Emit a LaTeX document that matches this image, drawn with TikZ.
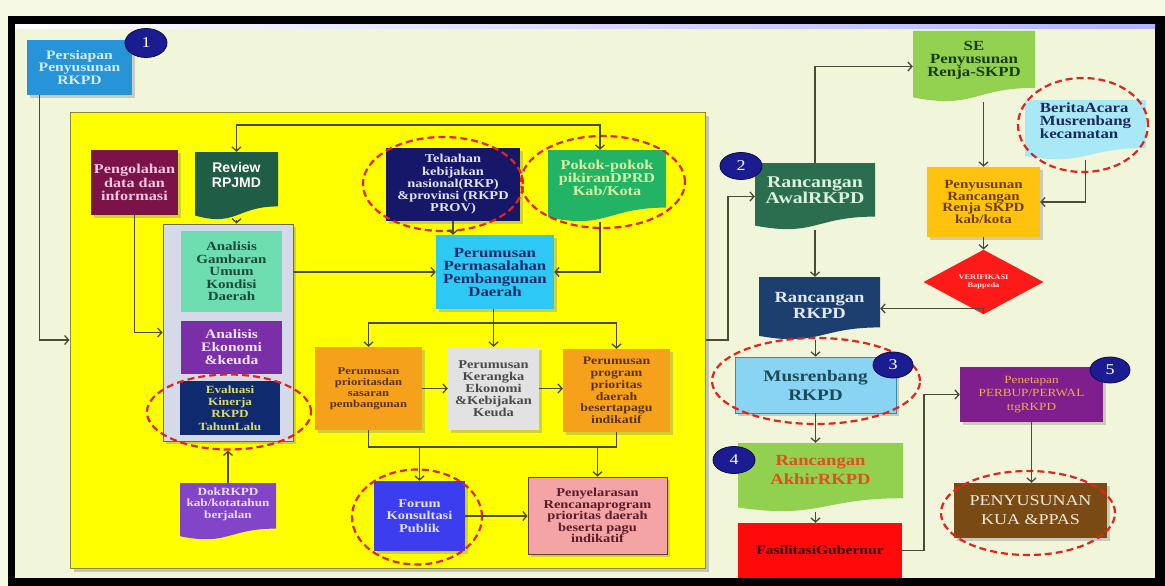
\documentclass[tikz,border=0pt]{standalone}
\usepackage{fontspec}
\setmainfont{Liberation Serif}[FakeStretch=1.2]
\newfontfamily\revfont{Liberation Sans}
\usetikzlibrary{shapes.geometric,arrows.meta,calc,shadows}
\newcommand{\myfs}[2]{\fontsize{#1pt}{#2pt}\selectfont\bfseries}
\newcommand{\myfr}[2]{\fontsize{#1pt}{#2pt}\selectfont}
\definecolor{topC}{HTML}{F6F9E4}
\definecolor{bgC}{HTML}{F1F6DA}
\definecolor{yel}{HTML}{FFFF00}
\definecolor{yelD}{HTML}{8A8A30}
\definecolor{lineC}{HTML}{4A4A38}
\definecolor{redE}{HTML}{E4231B}
\definecolor{badgeC}{HTML}{1C1C92}
\definecolor{badgeD}{HTML}{0B0B4A}
\definecolor{persC}{HTML}{2794D8}\definecolor{persT}{HTML}{D2ECF6}
\definecolor{pengC}{HTML}{7B1248}\definecolor{pengT}{HTML}{F4C8E0}
\definecolor{revC}{HTML}{1F5D46}
\definecolor{contC}{HTML}{D6DAE8}\definecolor{contD}{HTML}{6A6A55}
\definecolor{gamC}{HTML}{6EDDB0}\definecolor{gamT}{HTML}{1B4A38}
\definecolor{ekoC}{HTML}{7A2EA8}\definecolor{ekoT}{HTML}{F2E4FA}
\definecolor{evaC}{HTML}{0F2A6E}\definecolor{evaT}{HTML}{DADA6A}
\definecolor{telC}{HTML}{17176A}\definecolor{telT}{HTML}{E2E2F2}
\definecolor{pokC}{HTML}{22B464}\definecolor{pokT}{HTML}{D4F3A4}
\definecolor{permC}{HTML}{2EC8F4}\definecolor{permT}{HTML}{1B2B6B}
\definecolor{oraC}{HTML}{F6A11C}\definecolor{oraT}{HTML}{5B3312}
\definecolor{kerC}{HTML}{E2E2E2}\definecolor{kerT}{HTML}{4A4A4A}
\definecolor{forC}{HTML}{3D3DF0}\definecolor{forT}{HTML}{E2E2FF}
\definecolor{penyC}{HTML}{F4A4A4}\definecolor{penyT}{HTML}{5A1B2B}\definecolor{penyD}{HTML}{6A3A3A}
\definecolor{dokC}{HTML}{8244C8}\definecolor{dokT}{HTML}{EADCF8}
\definecolor{seC}{HTML}{93D150}\definecolor{seT}{HTML}{1A3A1A}
\definecolor{berC}{HTML}{A9E8F7}\definecolor{berT}{HTML}{1A2A5C}
\definecolor{awalC}{HTML}{2B6E4F}\definecolor{awalT}{HTML}{DAF2DE}
\definecolor{renC}{HTML}{FFC20F}\definecolor{renT}{HTML}{6A4000}
\definecolor{verC}{HTML}{FF1A1A}\definecolor{verT}{HTML}{FFE6E6}
\definecolor{rkpdC}{HTML}{1C3F6F}\definecolor{rkpdT}{HTML}{DFEAF3}
\definecolor{musC}{HTML}{88D4F2}\definecolor{musT}{HTML}{1B4A5A}\definecolor{musD}{HTML}{3A8AAA}
\definecolor{akhC}{HTML}{92D050}\definecolor{akhT}{HTML}{E0501F}
\definecolor{fasC}{HTML}{FF0A0A}\definecolor{fasT}{HTML}{3A0000}
\definecolor{pntC}{HTML}{7E1F8D}\definecolor{pntT}{HTML}{F6A84A}
\definecolor{kuaC}{HTML}{7A4A15}\definecolor{kuaT}{HTML}{F3EBD9}
\begin{document}
\begin{tikzpicture}[x=1pt,y=-1pt,
  conn/.style={draw=lineC, line width=1.3pt},
  arr/.style={conn, -{Straight Barb[length=4pt,width=9pt]}},
  box/.style={rectangle, inner sep=1pt, align=center},
  sh/.style={drop shadow={shadow xshift=2.5pt, shadow yshift=-2.5pt, opacity=0.35}},
  doc/.style={rectangle, inner sep=0pt, path picture={
    \fill[#1] (path picture bounding box.north west) -- (path picture bounding box.north east)
      -- ($(path picture bounding box.south east)!0.2!(path picture bounding box.north east)$)
      .. controls ($(path picture bounding box.south)!0.2!(path picture bounding box.north)$)
      and ($(path picture bounding box.south)!-0.107!(path picture bounding box.north)$)
      .. ($(path picture bounding box.south west)!0.066!(path picture bounding box.north west)$) -- cycle;
  }},
  redell/.style={ellipse, draw=redE, line width=2.2pt, dash pattern=on 7pt off 4pt, inner sep=0pt},
  badge/.style={ellipse, fill=badgeC, draw=badgeD, line width=0.8pt, text=white, inner sep=0pt, font=\myfr{15}{15}},
]
\useasboundingbox (0,0) rectangle (1165,586);
% background and frame
\fill[topC] (0,0) rectangle (1165,586);
\fill[black] (8,16) rectangle (1165,586);
\fill[bgC] (15,25) rectangle (1155,578);
\shade[left color=white, right color=blue!30] (15,25) rectangle (1155,29);

% yellow panel
\node[box, fill=yel, draw=yelD, line width=1pt, drop shadow={shadow xshift=4pt, shadow yshift=-4pt, opacity=0.4}, minimum width=635pt, minimum height=456pt] (ybox) at (387.5,340) {};

% left column
\node[box, fill=persC, text=persT, minimum width=105pt, minimum height=55pt, sh, font=\myfs{13}{12.5}] (pers) at (79.5,67.5) {Persiapan\\Penyusunan\\RKPD};
\node[box, fill=pengC, text=pengT, minimum width=87pt, minimum height=65pt, sh, font=\myfs{13.5}{13.5}] (peng) at (134.5,182.5) {Pengolahan\\data dan\\informasi};
\node[doc=revC, minimum width=83pt, minimum height=68pt] (review) at (236.5,186) {};
\node[text=white, align=center, inner sep=0pt, font={\revfont\fontsize{14pt}{15pt}\selectfont\bfseries}] (reviewT) at (236.5,175) {Review\\RPJMD};

\node[box, fill=contC, draw=contD, line width=1pt, sh, minimum width=130pt, minimum height=217pt] (cont) at (228,332.5) {};
\node[box, fill=gamC, text=gamT, minimum width=101pt, minimum height=81pt, font=\myfs{12.5}{12.6}] (gam) at (231.5,271.5) {Analisis\\Gambaran\\Umum\\Kondisi\\Daerah};
\node[box, fill=ekoC, text=ekoT, minimum width=101pt, minimum height=53pt, font=\myfs{13}{13}] (eko) at (231.5,347.5) {Analisis\\Ekonomi\\\&keuda};
\node[box, fill=evaC, text=evaT, minimum width=100pt, minimum height=54pt, font=\myfs{11}{12.3}] (eva) at (230,408) {Evaluasi\\Kinerja\\RKPD\\TahunLalu};

\node[doc=dokC, minimum width=96pt, minimum height=57pt] (dok) at (228,511.5) {};
\node[text=dokT, align=center, inner sep=0pt, font=\myfs{11}{11.5}] (dokT) at (228,504) {DokRKPD\\kab/kotatahun\\berjalan};

% middle
\node[box, fill=telC, text=telT, minimum width=134pt, minimum height=73pt, sh, font=\myfs{12}{12.3}] (tel) at (453,184.5) {Telaahan\\kebijakan\\nasional(RKP)\\\&provinsi (RKPD\\PROV)};
\node[doc=pokC, minimum width=118pt, minimum height=72pt] (pokok) at (607,186) {};
\node[text=pokT, align=center, inner sep=0pt, font=\myfs{13.5}{13}] (pokokT) at (607,178) {Pokok-pokok\\pikiranDPRD\\Kab/Kota};
\node[box, fill=permC, text=permT, minimum width=118pt, minimum height=74pt, sh, font=\myfs{14}{13}] (perm) at (495,272) {Perumusan\\Permasalahan\\Pembangunan\\Daerah};

\node[box, fill=oraC, text=oraT, minimum width=107pt, minimum height=83pt, sh, font=\myfs{10.5}{11}] (prio) at (368.5,388.5) {Perumusan\\prioritasdan\\sasaran\\pembangunan};
\node[box, fill=kerC, text=kerT, minimum width=91pt, minimum height=83pt, sh, font=\myfs{12}{12}] (ker) at (493.5,388.5) {Perumusan\\Kerangka\\Ekonomi\\\&Kebijakan\\Keuda};
\node[box, fill=oraC, text=oraT, minimum width=107pt, minimum height=83pt, sh, font=\myfs{11.5}{11.8}] (prog) at (616.5,390.5) {Perumusan\\program\\prioritas\\daerah\\besertapagu\\indikatif};

\node[box, fill=forC, text=forT, minimum width=91pt, minimum height=70pt, sh, font=\myfs{12}{12.5}] (forum) at (419.5,516) {Forum\\Konsultasi\\Publik};
\node[box, fill=penyC, text=penyT, draw=penyD, line width=0.8pt, minimum width=139pt, minimum height=77pt, sh, font=\myfs{12}{11.5}] (peny) at (597.5,515.5) {Penyelarasan\\Rencanaprogram\\prioritas daerah\\beserta pagu\\indikatif};

% right side
\node[doc=seC, minimum width=122pt, minimum height=71pt] (se) at (974,66.5) {};
\node[text=seT, align=center, inner sep=0pt, font=\myfs{14}{13}] (seT) at (974,60) {SE\\Penyusunan\\Renja-SKPD};
\node[doc=berC, minimum width=121pt, minimum height=60pt] (ber) at (1085.5,130) {};
\node[text=berT, align=left, inner sep=0pt, font=\myfs{14}{13}] (berT) at (1085.5,121) {BeritaAcara\\Musrenbang\\kecamatan};
\node[doc=awalC, minimum width=120pt, minimum height=67pt] (awal) at (815,196.5) {};
\node[text=awalT, align=center, inner sep=0pt, font=\myfs{16.5}{16}] (awalT) at (815,190) {Rancangan\\AwalRKPD};
\node[box, fill=renC, text=renT, minimum width=113pt, minimum height=70pt, sh, font=\myfs{12.5}{11.8}] (ren) at (983.5,202) {Penyusunan\\Rancangan\\Renja SKPD\\kab/kota};
\node[diamond, fill=verC, text=verT, minimum width=120pt, minimum height=50pt, inner sep=0pt, align=center, font=\myfs{7}{8.5}] (verif) at (983.5,282) {VERIFIKASI\\Bappeda};
\node[doc=rkpdC, minimum width=121pt, minimum height=63pt] (rkpd) at (819.5,308.5) {};
\node[text=rkpdT, align=center, inner sep=0pt, font=\myfs{15.5}{16}] (rkpdT) at (819.5,305) {Rancangan\\RKPD};
\node[box, fill=musC, text=musT, draw=musD, line width=0.6pt, minimum width=161pt, minimum height=56pt, sh, font=\myfs{16}{19}] (mus) at (815.5,385) {Musrenbang\\RKPD};
\node[doc=akhC, minimum width=165pt, minimum height=69pt] (akh) at (820.5,477.5) {};
\node[text=akhT, align=center, inner sep=0pt, font=\myfs{15.5}{19}] (akhT) at (820.5,470) {Rancangan\\AkhirRKPD};
\node[box, fill=fasC, text=fasT, minimum width=164pt, minimum height=55pt, font=\myfs{13}{13}] (fas) at (820,550.5) {FasilitasiGubernur};
\node[box, fill=pntC, text=pntT, minimum width=143pt, minimum height=55pt, sh, font=\myfr{11}{13.5}] (pnt) at (1031.5,394.5) {Penetapan\\PERBUP/PERWAL\\ttgRKPD};
\node[box, fill=kuaC, text=kuaT, minimum width=153pt, minimum height=55pt, sh, font=\myfr{15}{19}] (kua) at (1030.5,510.5) {PENYUSUNAN\\KUA \&PPAS};

% red dashed ellipses
\node[redell, minimum width=164pt, minimum height=75pt] (e1) at (229,412) {};
\node[redell, minimum width=160pt, minimum height=94pt] (e2) at (443,184) {};
\node[redell, minimum width=164pt, minimum height=92pt] (e3) at (603,182) {};
\node[redell, minimum width=130pt, minimum height=95pt] (e4) at (417,517) {};
\node[redell, minimum width=130pt, minimum height=94pt] (e5) at (1083,125) {};
\node[redell, minimum width=208pt, minimum height=86pt] (e6) at (816,381) {};
\node[redell, minimum width=174pt, minimum height=84pt] (e7) at (1028,513) {};

% helper coordinates
\coordinate (yT) at (0,125);
\coordinate (yB1) at (0,323);
\coordinate (yB2) at (0,447);
\coordinate (xA) at (728,0);
\coordinate (xF) at (924,0);
\coordinate (pkx) at ([xshift=-7pt]pokok.north);
\coordinate (pkb) at ([xshift=-7pt]pokok.south);

% connectors
\draw[arr] ([xshift=13pt]pers.south west) |- (ybox.west);
\draw[arr] (peng.south) |- (cont.west);
\draw[arr] (review.south) -- (review.south |- cont.north);
\draw[conn, {Straight Barb[length=4pt,width=9pt]}-{Straight Barb[length=4pt,width=9pt]}] (review.north) |- (pkx |- yT) -- (pkx);
\draw[arr] (cont.east |- perm.west) -- (perm.west);
\draw[arr] (tel.south) -- (tel.south |- perm.north);
\draw[arr] (pkb) |- (perm.east);
\draw[arr] (perm.south -| ker.north) -- (ker.north);
\draw[arr] (yB1 -| ker.north) -| (prio.north);
\draw[arr] (yB1 -| ker.north) -| (prog.north);
\draw[arr] (prio.east) -- (ker.west);
\draw[arr] (ker.east) -- (ker.east -| prog.west);
\draw[conn] (prio.south) |- (yB2 -| prog.south) -- (prog.south);
\draw[arr] (yB2 -| forum.north) -- (forum.north);
\draw[arr] (yB2 -| peny.north) -- (peny.north);
\draw[arr] (forum.east) -- (forum.east -| peny.west);
\draw[arr] (dok.north) -- (dok.north |- e1.south);
\draw[arr] (ybox.east) -| (xA |- awal.west) -- (awal.west);
\draw[arr] (awal.north) |- (se.west);
\draw[arr] (awal.south) -- (awal.south |- rkpd.north);
\draw[arr] (ren.north |- se.south) -- (ren.north);
\draw[arr] (ber.south) |- (ren.east);
\draw[arr] (ren.south) -- (verif.north);
\draw[arr] (verif.south) |- (rkpd.east);
\draw[arr] (rkpd.south -| mus.north) -- (mus.north);
\draw[arr] (mus.south) -- (mus.south |- akh.north);
\draw[arr] (akh.south -| mus.south) -- (mus.south |- fas.north);
\draw[arr] (fas.east) -| (xF |- pnt.west) -- (pnt.west);
\draw[arr] (pnt.south) -- (pnt.south |- kua.north);

% number badges
\node[badge, minimum width=42pt, minimum height=29pt] (b1) at (146,43) {1};
\node[badge, minimum width=42pt, minimum height=27pt] (b2) at (741,166) {2};
\node[badge, minimum width=40pt, minimum height=26pt] (b3) at (893,365) {3};
\node[badge, minimum width=42pt, minimum height=27pt] (b4) at (734,460) {4};
\node[badge, minimum width=40pt, minimum height=26pt] (b5) at (1110,370) {5};
\end{tikzpicture}
\end{document}
